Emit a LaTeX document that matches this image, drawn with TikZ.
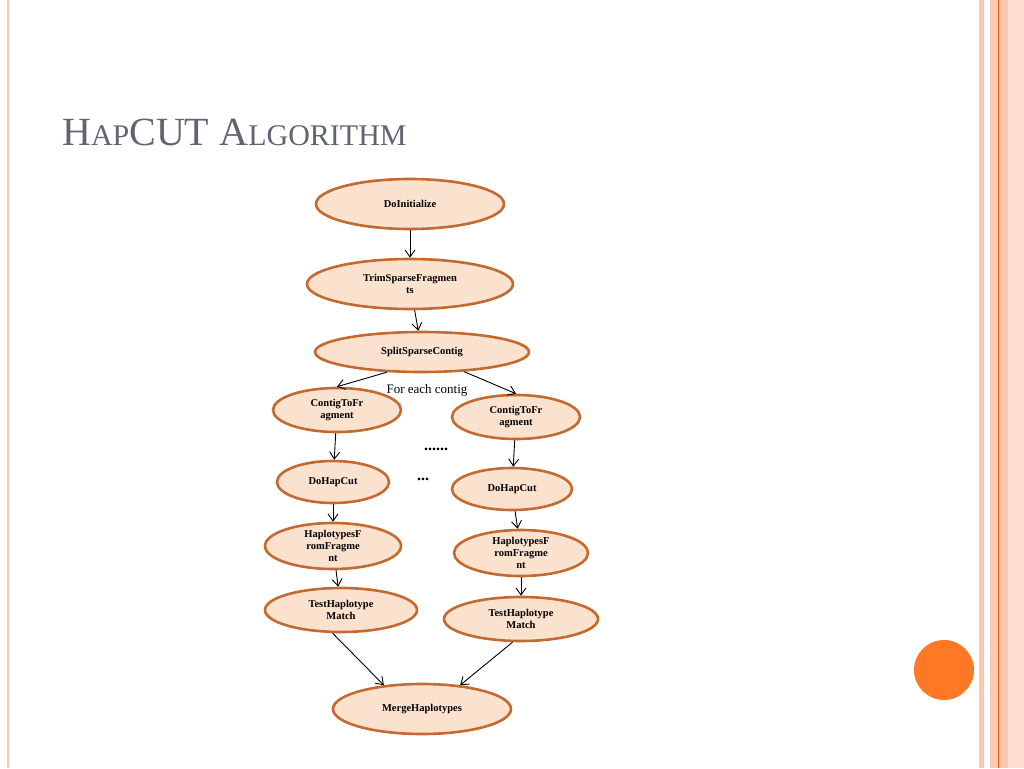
\documentclass[tikz,border=0pt]{standalone}
\usepackage{fontspec}
\setmainfont{Liberation Serif}
\usetikzlibrary{shapes.geometric,arrows.meta}
\definecolor{stepfill}{HTML}{FBE2CF}
\definecolor{stepline}{HTML}{C46A30}
\definecolor{stripe}{HTML}{FCC8B2}
\definecolor{titlegrey}{HTML}{5E6470}
\tikzset{
  task/.style = {ellipse, fill=stepfill, draw=stepline, line width=2.6pt, inner sep=0pt,
                 align=center, font=\fontsize{10.5}{12}\selectfont\bfseries},
  flow/.style = {-{Straight Barb[length=7pt,width=10pt]}, line width=0.9pt}
}
\begin{document}
\begin{tikzpicture}[x=1pt,y=-1pt]
\useasboundingbox (0,0) rectangle (1024,768);
% slide frame
\fill[stripe] (979,0) rectangle (984,768);
\fill[stripe] (990,0) rectangle (1024,768);
\fill[stripe!60] (1008,0) rectangle (1024,768);
\draw[orange!70!red, line width=0.6pt] (998,0) -- (998,768);
\draw[stripe, line width=1.2pt] (8,0) -- (8,768);
\fill[orange!75!red!85] (944,670) circle (30);
% title
\node[anchor=base west, text=titlegrey, inner sep=0pt] (title) at (62,145)
  {\fontsize{40}{40}\selectfont H\fontsize{30}{30}\selectfont AP\fontsize{40}{40}\selectfont CUT A\fontsize{30}{30}\selectfont LGORITHM};

% Define nodes
\node[task, minimum width=188, minimum height=50] (init)  at (410,204) {DoInitialize};
\node[task, minimum width=206, minimum height=50] (trim)  at (410,284) {TrimSparseFragmen\\ts};
\node[task, minimum width=214, minimum height=40] (split) at (422,352) {SplitSparseContig};
\node[task, minimum width=128, minimum height=44] (ctfl)  at (337,410) {ContigToFr\\agment};
\node[task, minimum width=128, minimum height=44] (ctfr)  at (516,417) {ContigToFr\\agment};
\node[task, minimum width=112, minimum height=42] (hcl)   at (333,482) {DoHapCut};
\node[task, minimum width=120, minimum height=42] (hcr)   at (512,489) {DoHapCut};
\node[task, minimum width=136, minimum height=46] (hfl)   at (333,546) {HaplotypesF\\romFragme\\nt};
\node[task, minimum width=134, minimum height=46] (hfr)   at (521,553) {HaplotypesF\\romFragme\\nt};
\node[task, minimum width=152, minimum height=44] (thl)   at (341,610) {TestHaplotype\\Match};
\node[task, minimum width=154, minimum height=44] (thr)   at (521,619) {TestHaplotype\\Match};
\node[task, minimum width=178, minimum height=50] (merge) at (422,709) {MergeHaplotypes};

\node[font=\fontsize{13}{13}\selectfont] (each) at (427,390) {For each contig};
\node[font=\fontsize{16}{16}\selectfont\bfseries] (dots1) at (436,449) {......};
\node[font=\fontsize{16}{16}\selectfont\bfseries] (dots2) at (423,479) {...};

% Edges
\draw[flow] (init) -- (trim);
\draw[flow] (trim) -- (split);
\draw[flow] (split.210) -- (ctfl.north);
\draw[flow] (split.335) -- (ctfr.north);
\draw[flow] (ctfl) -- (hcl);
\draw[flow] (ctfr) -- (hcr);
\draw[flow] (hcl) -- (hfl);
\draw[flow] (hcr) -- (hfr);
\draw[flow] (hfl) -- (thl);
\draw[flow] (hfr) -- (thr);
\draw[flow] (thl.250) -- (merge.148);
\draw[flow] (thr.250) -- (merge.32);
\end{tikzpicture}
\end{document}
